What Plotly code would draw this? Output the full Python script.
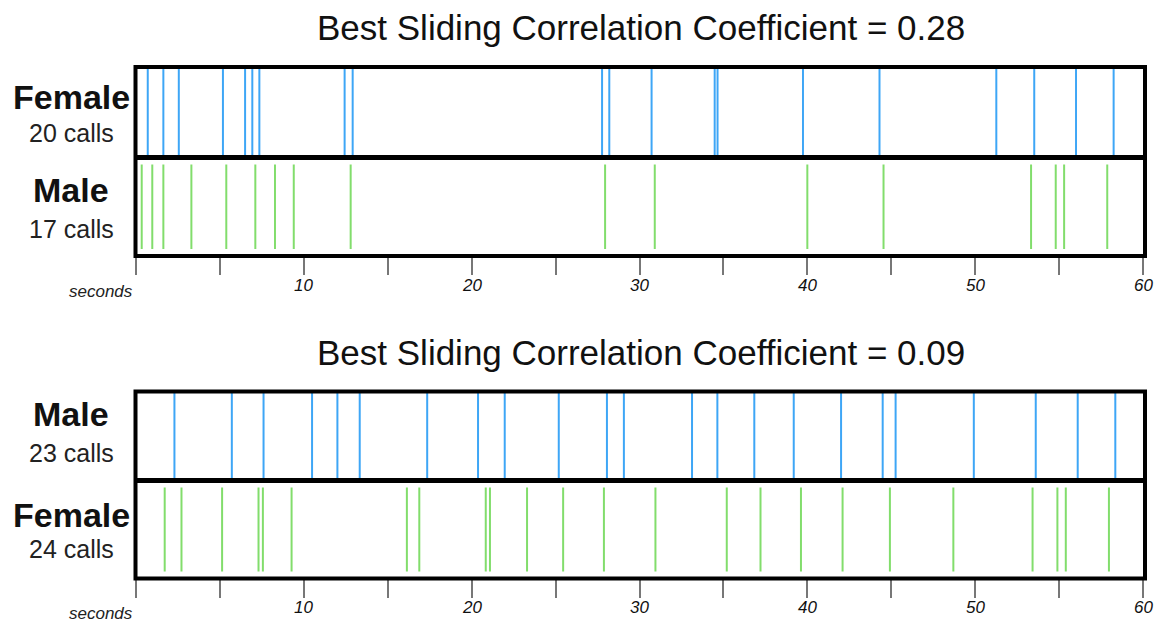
import plotly.graph_objects as go

W, H = 1161, 623
WE = 1161

# ---- data (seconds) ----
p1_title = "Best Sliding Correlation Coefficient = 0.28"
p1_top_label, p1_top_calls = "Female", "20 calls"
p1_bot_label, p1_bot_calls = "Male", "17 calls"
p1_top = [0.70, 1.63, 2.55, 5.18, 6.50, 6.93, 7.35, 12.43, 12.91, 27.77, 28.20,
          30.72, 34.48, 34.65, 39.74, 44.30, 51.26, 53.52, 56.01, 58.25]
p1_bot = [0.34, 0.97, 1.63, 3.30, 5.38, 7.11, 8.28, 9.40, 12.79, 27.95,
          30.91, 40.00, 44.54, 53.33, 54.80, 55.30, 57.87]

p2_title = "Best Sliding Correlation Coefficient = 0.09"
p2_top_label, p2_top_calls = "Male", "23 calls"
p2_bot_label, p2_bot_calls = "Female", "24 calls"
p2_top = [2.29, 5.71, 7.60, 10.49, 12.00, 13.33, 17.35, 20.38, 21.97, 25.19, 28.06, 29.07,
          33.13, 34.64, 36.84, 39.19, 42.01, 44.49, 45.26, 49.92, 53.61, 56.11, 58.35]
p2_bot = [1.71, 2.71, 5.13, 7.30, 7.56, 9.27, 16.14, 16.88, 20.84, 21.09, 23.30, 25.45, 27.88,
          30.95, 35.20, 37.21, 39.62, 42.10, 44.92, 48.70, 53.42, 54.90, 55.40, 57.97]

tick_vals = [0, 5, 10, 15, 20, 25, 30, 35, 40, 45, 50, 55, 60]
tick_labels = [10, 20, 30, 40, 50, 60]

BLUE = "#3ea6f6"
GREEN = "#82dd6c"
FONT = "Liberation Sans, Arial, sans-serif"

# ---- layout in pixels ----
X0, X1 = 136, 1143
panels = [
    dict(top=67, div=157.5, bot=256, title_y=27, tdata=p1_top, bdata=p1_bot, title=p1_title,
         tl=p1_top_label, tc=p1_top_calls, bl=p1_bot_label, bc=p1_bot_calls,
         label_y=(97, 133, 190, 229)),
    dict(top=391.5, div=480.5, bot=578.5, title_y=352, tdata=p2_top, bdata=p2_bot, title=p2_title,
         tl=p2_top_label, tc=p2_top_calls, bl=p2_bot_label, bc=p2_bot_calls,
         label_y=(414, 453, 515, 549)),
]

def py(px):
    return 1 - px / H

def px_(x):
    return x / WE

fig = go.Figure()
shapes, annotations = [], []

for i, p in enumerate(panels):
    xa = "x" if i == 0 else "x2"
    ya = "y" if i == 0 else "y2"
    unit = p["bot"] - p["div"]
    ytop = (p["bot"] - p["top"]) / unit
    gpad = 7 / unit

    def seg(vals, y0, y1):
        xs, ys = [], []
        for v in vals:
            xs += [v, v, None]
            ys += [y0, y1, None]
        return xs, ys

    xs, ys = seg(p["tdata"], 1, ytop)
    fig.add_trace(go.Scatter(x=xs, y=ys, mode="lines", line=dict(color=BLUE, width=2),
                             xaxis=xa, yaxis=ya, showlegend=False, hoverinfo="skip"))
    xs, ys = seg(p["bdata"], gpad, 1 - gpad)
    fig.add_trace(go.Scatter(x=xs, y=ys, mode="lines", line=dict(color=GREEN, width=2),
                             xaxis=xa, yaxis=ya, showlegend=False, hoverinfo="skip"))

    axkey = "xaxis" if i == 0 else "xaxis2"
    aykey = "yaxis" if i == 0 else "yaxis2"
    fig.update_layout(**{
        axkey: dict(domain=[px_(X0), px_(X1)], range=[0, 60], anchor=ya,
                    tickvals=tick_vals, showticklabels=False, ticks="outside",
                    ticklen=18, tickwidth=2, tickcolor="#777777",
                    showgrid=False, zeroline=False, showline=False),
        aykey: dict(domain=[py(p["bot"]), py(p["top"])], range=[0, ytop], anchor=xa,
                    visible=False, showgrid=False, zeroline=False),
    })

    # tick labels as annotations in data coords
    for t in tick_labels:
        annotations.append(dict(text=str(t), x=t, y=py(p["bot"] + 29), xref=xa, yref="paper",
                                showarrow=False, xanchor="center", yanchor="middle",
                                font=dict(family=FONT, size=17, color="#111", style="italic")))

    # borders
    shapes.append(dict(type="rect", xref="paper", yref="paper",
                       x0=px_(135.5), x1=px_(1145), y0=py(p["bot"]), y1=py(p["top"]),
                       line=dict(color="black", width=4), layer="above"))
    shapes.append(dict(type="line", xref="paper", yref="paper",
                       x0=px_(135.5), x1=px_(1145), y0=py(p["div"]), y1=py(p["div"]),
                       line=dict(color="black", width=5), layer="above"))

    # title
    annotations.append(dict(text=p["title"], x=px_(641), y=py(p["title_y"]), xref="paper", yref="paper",
                            showarrow=False, xanchor="center", yanchor="middle",
                            font=dict(family=FONT, size=35, color="#111")))
    # row labels
    ly = p["label_y"]
    for lbl, calls, y_l, y_c in [(p["tl"], p["tc"], ly[0], ly[1]), (p["bl"], p["bc"], ly[2], ly[3])]:
        annotations.append(dict(text="<b>" + lbl + "</b>", x=px_(71), y=py(y_l), xref="paper", yref="paper",
                                showarrow=False, xanchor="center", yanchor="middle",
                                font=dict(family=FONT, size=34, color="#111")))
        annotations.append(dict(text=calls, x=px_(71), y=py(y_c), xref="paper", yref="paper",
                                showarrow=False, xanchor="center", yanchor="middle",
                                font=dict(family=FONT, size=25, color="#222")))
    # seconds
    annotations.append(dict(text="seconds", x=px_(135), y=py(p["bot"] + 35), xref="paper", yref="paper",
                            showarrow=False, xanchor="right", yanchor="middle",
                            font=dict(family=FONT, size=17, color="#222", style="italic")))

fig.update_layout(width=W, height=H, margin=dict(l=0, r=0, t=0, b=0),
                  paper_bgcolor="white", plot_bgcolor="white",
                  shapes=shapes, annotations=annotations)

fig.write_html("out.html", config={"responsive": False, "displayModeBar": False})
